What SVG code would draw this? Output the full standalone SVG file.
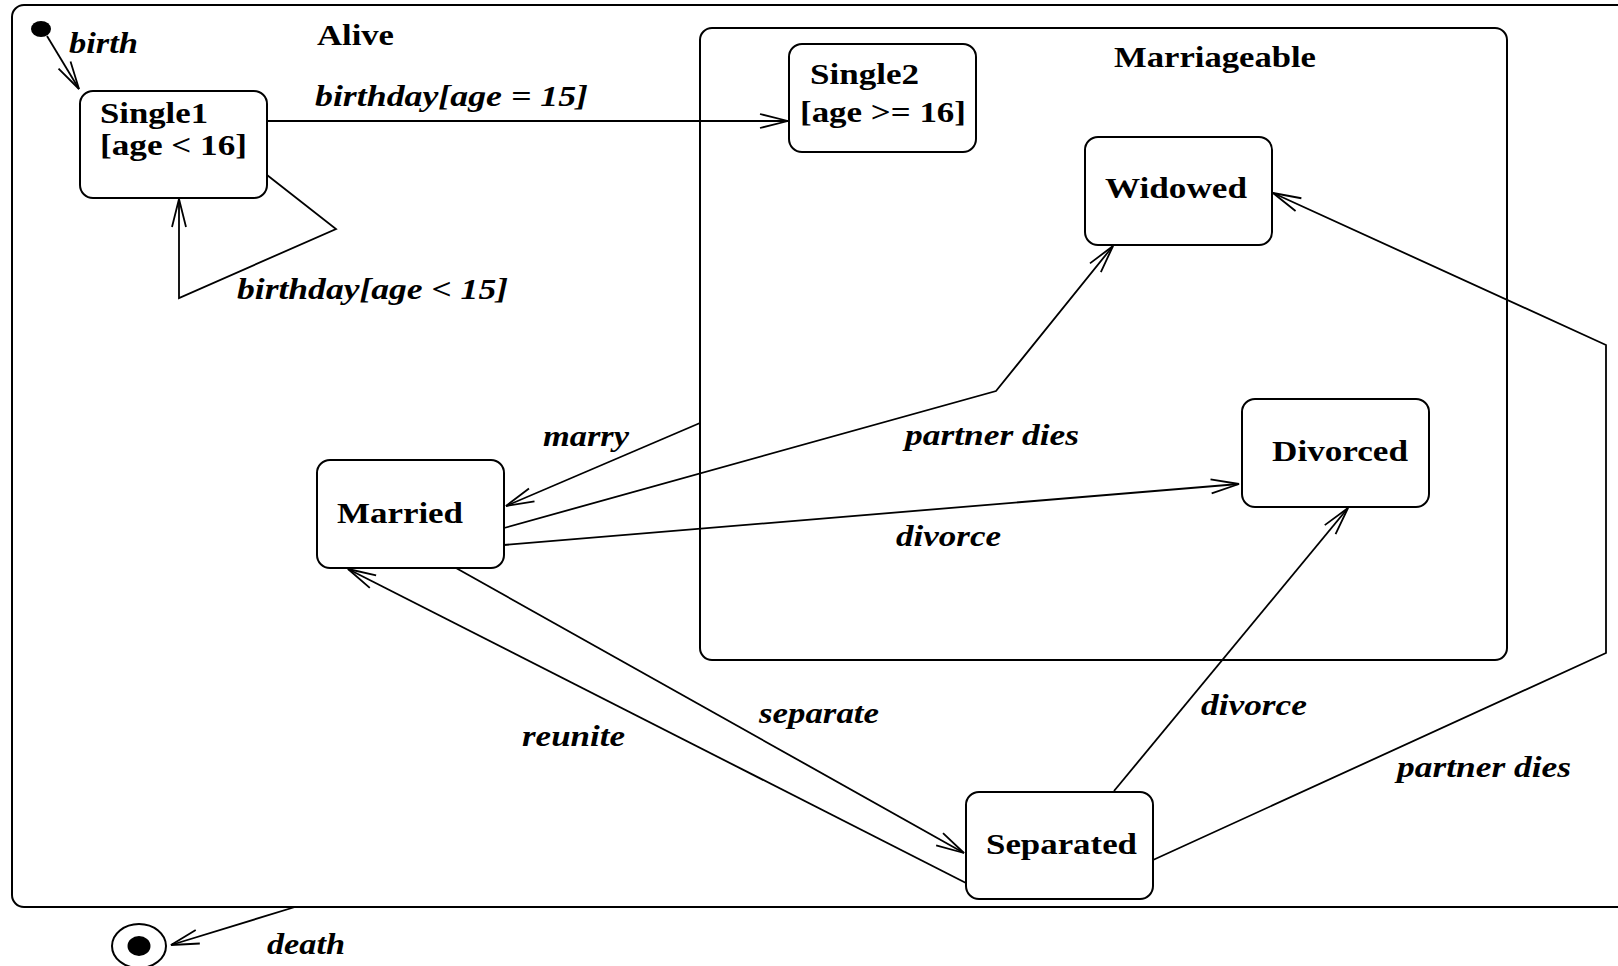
<svg xmlns="http://www.w3.org/2000/svg" width="1618" height="966" viewBox="0 0 1618 966">
  <style>
    .frame { fill: none; stroke: #000; stroke-width: 2; }
    .state { fill: #fff; stroke: #000; stroke-width: 2; }
    .edge { fill: none; stroke: #000; stroke-width: 1.8; marker-end: url(#open); }
    .name { font-family: "Liberation Serif", "Times New Roman", serif; font-weight: bold; font-size: 29px; fill: #000; }
    .evt { font-family: "Liberation Serif", "Times New Roman", serif; font-weight: bold; font-style: italic; font-size: 29px; fill: #000; }
  </style>
  <defs>
    <marker id="open" viewBox="-32 -10 34 20" refX="0" refY="0" markerWidth="34" markerHeight="20" markerUnits="userSpaceOnUse" orient="auto">
      <path d="M-28,-7 L0,0 L-28,7" fill="none" stroke="#000" stroke-width="1.8"/>
    </marker>
  </defs>
  <rect width="1618" height="966" fill="#fff"/>

  <!-- composite state: Alive -->
  <g id="alive">
    <rect class="frame" x="12" y="5" width="1680" height="902" rx="12"/>
    <text class="name" x="317" y="45" textLength="77" lengthAdjust="spacingAndGlyphs">Alive</text>
  </g>

  <!-- composite state: Marriageable -->
  <g id="marriageable">
    <rect class="frame" x="700" y="28" width="807" height="632" rx="12"/>
    <text class="name" x="1114" y="67" textLength="202" lengthAdjust="spacingAndGlyphs">Marriageable</text>
  </g>

  <!-- pseudo states -->
  <g id="initial">
    <ellipse cx="41" cy="29" rx="10" ry="8" fill="#000"/>
  </g>
  <g id="final">
    <ellipse cx="139" cy="946" rx="27" ry="22" fill="#fff" stroke="#000" stroke-width="2"/>
    <ellipse cx="139" cy="946" rx="11.5" ry="10" fill="#000"/>
  </g>

  <!-- simple states -->
  <g id="single1">
    <rect class="state" x="80" y="91" width="187" height="107" rx="13"/>
    <text class="name" x="100" y="123" textLength="108" lengthAdjust="spacingAndGlyphs">Single1</text>
    <text class="name" x="100" y="155" textLength="147" lengthAdjust="spacingAndGlyphs">[age &lt; 16]</text>
  </g>
  <g id="single2">
    <rect class="state" x="789" y="44" width="187" height="108" rx="13"/>
    <text class="name" x="810" y="84" textLength="109" lengthAdjust="spacingAndGlyphs">Single2</text>
    <text class="name" x="800" y="122" textLength="166" lengthAdjust="spacingAndGlyphs">[age &gt;= 16]</text>
  </g>
  <g id="widowed">
    <rect class="state" x="1085" y="137" width="187" height="108" rx="13"/>
    <text class="name" x="1105" y="198" textLength="142" lengthAdjust="spacingAndGlyphs">Widowed</text>
  </g>
  <g id="divorced">
    <rect class="state" x="1242" y="399" width="187" height="108" rx="13"/>
    <text class="name" x="1272" y="461" textLength="136" lengthAdjust="spacingAndGlyphs">Divorced</text>
  </g>
  <g id="married">
    <rect class="state" x="317" y="460" width="187" height="108" rx="13"/>
    <text class="name" x="337" y="523" textLength="126" lengthAdjust="spacingAndGlyphs">Married</text>
  </g>
  <g id="separated">
    <rect class="state" x="966" y="792" width="187" height="107" rx="13"/>
    <text class="name" x="986" y="854" textLength="151" lengthAdjust="spacingAndGlyphs">Separated</text>
  </g>

  <!-- transitions -->
  <g id="transitions">
    <polyline class="edge" points="47,36 79,89"/>
    <polyline class="edge" points="267,121 788,121"/>
    <polyline class="edge" points="267,175 336,229 179,298 179,199"/>
    <polyline class="edge" points="700,423 506,506"/>
    <polyline class="edge" points="504,528 996,391 1113,246"/>
    <polyline class="edge" points="504,545 1239,484"/>
    <polyline class="edge" points="456,568 964,853"/>
    <polyline class="edge" points="966,883 348,569"/>
    <polyline class="edge" points="1114,791 1348,508"/>
    <polyline class="edge" points="1153,860 1606,653 1606,345 1273,193"/>
    <polyline class="edge" points="295,907 171,945"/>

    <text class="evt" x="69" y="53" textLength="69" lengthAdjust="spacingAndGlyphs">birth</text>
    <text class="evt" x="315" y="106" textLength="273" lengthAdjust="spacingAndGlyphs">birthday[age = 15]</text>
    <text class="evt" x="237" y="299" textLength="271" lengthAdjust="spacingAndGlyphs">birthday[age &lt; 15]</text>
    <text class="evt" x="543" y="446" textLength="86" lengthAdjust="spacingAndGlyphs">marry</text>
    <text class="evt" x="905" y="445" textLength="174" lengthAdjust="spacingAndGlyphs">partner dies</text>
    <text class="evt" x="896" y="546" textLength="105" lengthAdjust="spacingAndGlyphs">divorce</text>
    <text class="evt" x="759" y="723" textLength="120" lengthAdjust="spacingAndGlyphs">separate</text>
    <text class="evt" x="522" y="746" textLength="103" lengthAdjust="spacingAndGlyphs">reunite</text>
    <text class="evt" x="1201" y="715" textLength="106" lengthAdjust="spacingAndGlyphs">divorce</text>
    <text class="evt" x="1397" y="777" textLength="174" lengthAdjust="spacingAndGlyphs">partner dies</text>
    <text class="evt" x="267" y="954" textLength="78" lengthAdjust="spacingAndGlyphs">death</text>
  </g>
</svg>
